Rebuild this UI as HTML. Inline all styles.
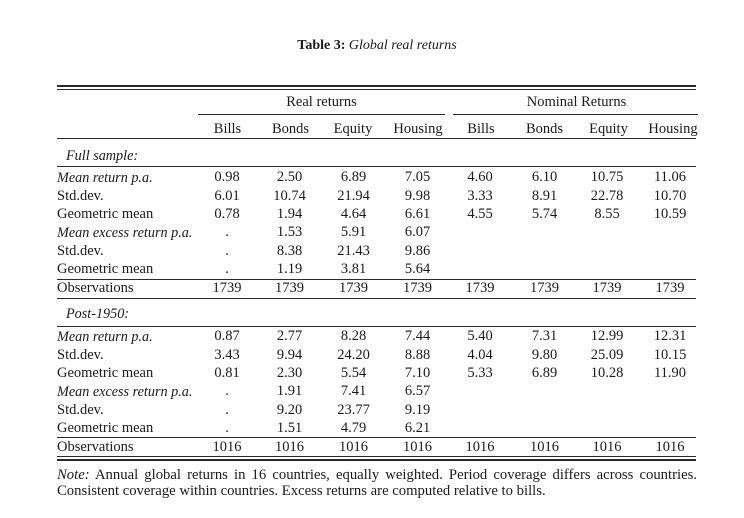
<!DOCTYPE html>
<html><head><meta charset="utf-8">
<style>
html,body{margin:0;padding:0;background:#fff;}
body{width:744px;height:518px;position:relative;overflow:hidden;font-family:"Liberation Serif","DejaVu Serif",serif;color:#1a1a1a;}
.t{position:absolute;white-space:nowrap;}
.title{left:0;width:754px;text-align:center;top:37px;font-size:14px;line-height:18px;}
.hl{position:absolute;background:#2a2a2a;}
.r{position:absolute;left:0;width:744px;height:18px;line-height:18px;font-size:14.5px;}
.r span{position:absolute;width:70px;text-align:center;top:0;}
.r .l{left:57px;width:auto;text-align:left;}
.r .i{font-style:italic;font-size:14.2px;top:1px;}
.r span.c1{left:192px}.r span.c2{left:254.5px}.r span.c3{left:318.5px}.r span.c4{left:382.5px}
.r span.c5{left:445px}.r span.c6{left:509.5px}.r span.c7{left:572px}.r span.c8{left:635px}
.h span.c1{left:192.5px}.h span.c2{left:255.5px}.h span.c3{left:318px}.h span.c4{left:383px}
.h span.c5{left:446px}.h span.c6{left:509.5px}.h span.c7{left:573.5px}.h span.c8{left:638px}
.note{position:absolute;left:57px;width:640px;font-size:14.7px;line-height:16px;white-space:nowrap;}
.j{text-align:justify;text-align-last:justify;white-space:normal;}
</style></head><body>

<div class="t title"><b>Table 3:</b> <i>Global real returns</i></div>

<div class="hl" style="left:57px;width:639px;top:85px;height:1.5px"></div>
<div class="hl" style="left:57px;width:639px;top:89px;height:1px"></div>

<div class="r" style="top:93px"><span style="left:271.5px;width:100px">Real returns</span><span style="left:516.5px;width:120px">Nominal Returns</span></div>
<div class="hl" style="left:198px;width:247px;top:114px;height:1px"></div>
<div class="hl" style="left:453px;width:245px;top:114px;height:1px"></div>

<div class="r h" style="top:120px"><span class="c1">Bills</span><span class="c2">Bonds</span><span class="c3">Equity</span><span class="c4">Housing</span><span class="c5">Bills</span><span class="c6">Bonds</span><span class="c7">Equity</span><span class="c8">Housing</span></div>
<div class="hl" style="left:57px;width:639px;top:138px;height:1px"></div>

<div class="r" style="top:146px"><span class="l i" style="left:66px">Full sample:</span></div>
<div class="hl" style="left:57px;width:639px;top:166px;height:1px"></div>

<div class="r" style="top:168px"><span class="l i">Mean return p.a.</span><span class="c1">0.98</span><span class="c2">2.50</span><span class="c3">6.89</span><span class="c4">7.05</span><span class="c5">4.60</span><span class="c6">6.10</span><span class="c7">10.75</span><span class="c8">11.06</span></div>
<div class="r" style="top:186.5px"><span class="l">Std.dev.</span><span class="c1">6.01</span><span class="c2">10.74</span><span class="c3">21.94</span><span class="c4">9.98</span><span class="c5">3.33</span><span class="c6">8.91</span><span class="c7">22.78</span><span class="c8">10.70</span></div>
<div class="r" style="top:205px"><span class="l">Geometric mean</span><span class="c1">0.78</span><span class="c2">1.94</span><span class="c3">4.64</span><span class="c4">6.61</span><span class="c5">4.55</span><span class="c6">5.74</span><span class="c7">8.55</span><span class="c8">10.59</span></div>
<div class="r" style="top:223px"><span class="l i">Mean excess return p.a.</span><span class="c1">.</span><span class="c2">1.53</span><span class="c3">5.91</span><span class="c4">6.07</span></div>
<div class="r" style="top:241.5px"><span class="l">Std.dev.</span><span class="c1">.</span><span class="c2">8.38</span><span class="c3">21.43</span><span class="c4">9.86</span></div>
<div class="r" style="top:260px"><span class="l">Geometric mean</span><span class="c1">.</span><span class="c2">1.19</span><span class="c3">3.81</span><span class="c4">5.64</span></div>
<div class="hl" style="left:57px;width:639px;top:279px;height:1px"></div>
<div class="r" style="top:279px"><span class="l">Observations</span><span class="c1">1739</span><span class="c2">1739</span><span class="c3">1739</span><span class="c4">1739</span><span class="c5">1739</span><span class="c6">1739</span><span class="c7">1739</span><span class="c8">1739</span></div>
<div class="hl" style="left:57px;width:639px;top:298px;height:1px"></div>

<div class="r" style="top:304px"><span class="l i" style="left:66px">Post-1950:</span></div>
<div class="hl" style="left:57px;width:639px;top:326px;height:1px"></div>

<div class="r" style="top:327px"><span class="l i">Mean return p.a.</span><span class="c1">0.87</span><span class="c2">2.77</span><span class="c3">8.28</span><span class="c4">7.44</span><span class="c5">5.40</span><span class="c6">7.31</span><span class="c7">12.99</span><span class="c8">12.31</span></div>
<div class="r" style="top:346px"><span class="l">Std.dev.</span><span class="c1">3.43</span><span class="c2">9.94</span><span class="c3">24.20</span><span class="c4">8.88</span><span class="c5">4.04</span><span class="c6">9.80</span><span class="c7">25.09</span><span class="c8">10.15</span></div>
<div class="r" style="top:364px"><span class="l">Geometric mean</span><span class="c1">0.81</span><span class="c2">2.30</span><span class="c3">5.54</span><span class="c4">7.10</span><span class="c5">5.33</span><span class="c6">6.89</span><span class="c7">10.28</span><span class="c8">11.90</span></div>
<div class="r" style="top:382px"><span class="l i">Mean excess return p.a.</span><span class="c1">.</span><span class="c2">1.91</span><span class="c3">7.41</span><span class="c4">6.57</span></div>
<div class="r" style="top:401px"><span class="l">Std.dev.</span><span class="c1">.</span><span class="c2">9.20</span><span class="c3">23.77</span><span class="c4">9.19</span></div>
<div class="r" style="top:419px"><span class="l">Geometric mean</span><span class="c1">.</span><span class="c2">1.51</span><span class="c3">4.79</span><span class="c4">6.21</span></div>
<div class="hl" style="left:57px;width:639px;top:437px;height:1px"></div>
<div class="r" style="top:438px"><span class="l">Observations</span><span class="c1">1016</span><span class="c2">1016</span><span class="c3">1016</span><span class="c4">1016</span><span class="c5">1016</span><span class="c6">1016</span><span class="c7">1016</span><span class="c8">1016</span></div>
<div class="hl" style="left:57px;width:639px;top:456px;height:1px"></div>
<div class="hl" style="left:57px;width:639px;top:459px;height:1.5px"></div>

<div class="note j" style="top:467px"><i>Note:</i> Annual global returns in 16 countries, equally weighted. Period coverage differs across countries.</div>
<div class="note" style="top:483px">Consistent coverage within countries. Excess returns are computed relative to bills.</div>

</body></html>
